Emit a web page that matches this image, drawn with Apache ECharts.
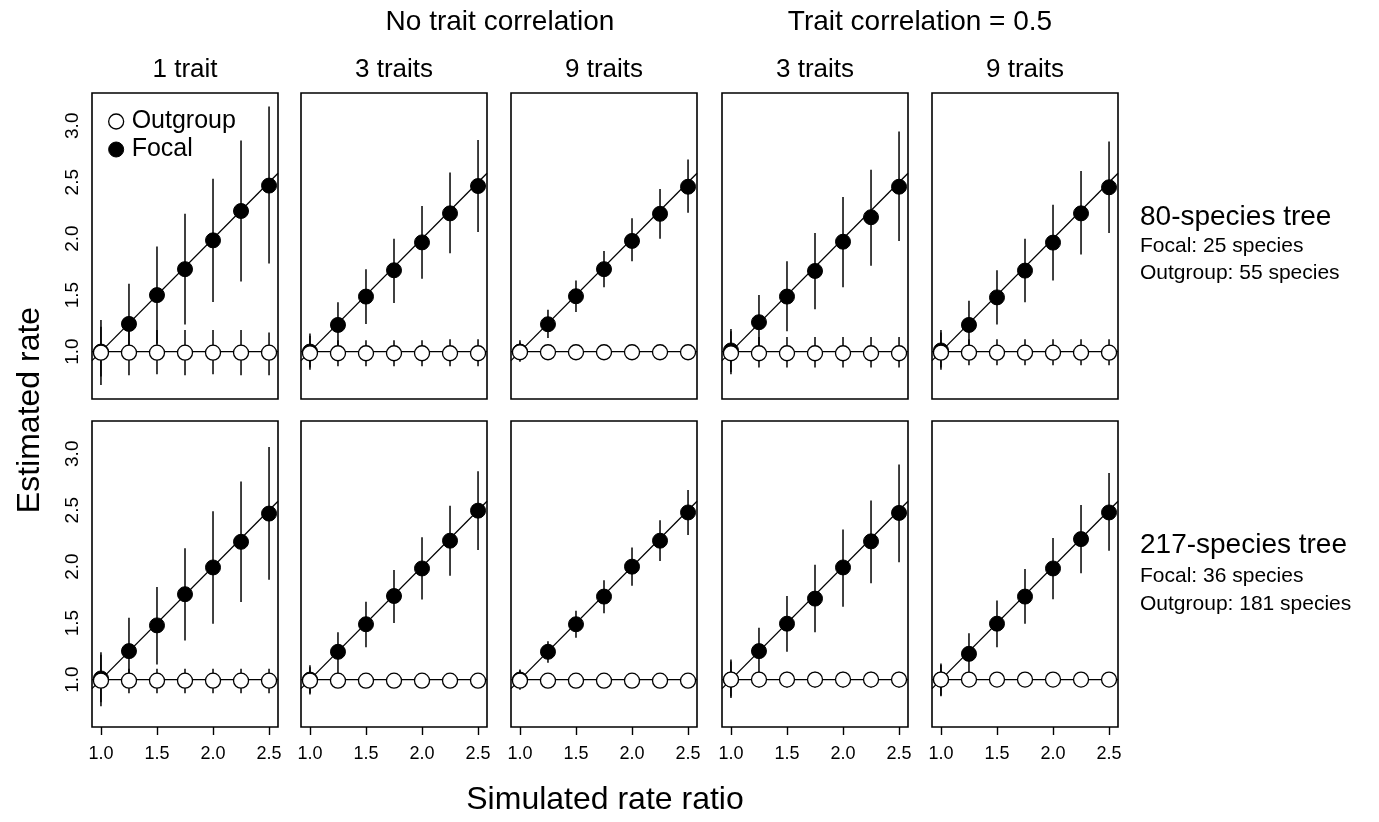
<!DOCTYPE html>
<html>
<head>
<meta charset="utf-8">
<script src="https://cdn.jsdelivr.net/npm/echarts@6/dist/echarts.min.js"></script>
<style>
  html, body { margin: 0; padding: 0; background: #fff; }
  #chart { width: 1379px; height: 822px; }
</style>
</head>
<body>
<div id="chart"></div>
<script>
// simulated rate ratios (x positions)
var ratios = [1.0, 1.25, 1.5, 1.75, 2.0, 2.25, 2.5];
var xTicks = [1.0, 1.5, 2.0, 2.5];
var yTicks = [1.0, 1.5, 2.0, 2.5, 3.0];

var columnTitles = ['1 trait', '3 traits', '9 traits', '3 traits', '9 traits'];
var groupTitles = ['No trait correlation', 'Trait correlation = 0.5'];
var rowTitles = ['80-species tree', '217-species tree'];
var rowFocal = ['Focal: 25 species', 'Focal: 36 species'];
var rowOutgroup = ['Outgroup: 55 species', 'Outgroup: 181 species'];

// 80-species tree, one row per panel
var focalMean80 = [
  [1.00, 1.245, 1.50, 1.73, 1.985, 2.245, 2.47],
  [1.00, 1.236, 1.487, 1.72, 1.967, 2.224, 2.466],
  [1.00, 1.242, 1.49, 1.73, 1.98, 2.22, 2.46],
  [1.01, 1.26, 1.487, 1.714, 1.973, 2.19, 2.46],
  [1.01, 1.236, 1.48, 1.717, 1.965, 2.224, 2.455]
];
var focalLow80 = [
  [0.78, 0.93, 1.07, 1.24, 1.44, 1.62, 1.78],
  [0.86, 1.03, 1.245, 1.43, 1.646, 1.87, 2.06],
  [0.93, 1.12, 1.35, 1.57, 1.80, 2.00, 2.23],
  [0.82, 0.97, 1.18, 1.375, 1.57, 1.76, 1.98],
  [0.86, 1.00, 1.24, 1.437, 1.63, 1.86, 2.05]
];
var focalHigh80 = [
  [1.22, 1.60, 1.93, 2.22, 2.53, 2.87, 3.17],
  [1.14, 1.437, 1.73, 2.00, 2.29, 2.587, 2.873],
  [1.08, 1.37, 1.63, 1.89, 2.18, 2.44, 2.70],
  [1.18, 1.50, 1.80, 2.05, 2.37, 2.61, 2.95],
  [1.17, 1.45, 1.72, 2.00, 2.30, 2.60, 2.86]
];
var outMean80 = [
  [0.99, 0.99, 0.99, 0.99, 0.99, 0.99, 0.99],
  [0.985, 0.985, 0.985, 0.985, 0.985, 0.985, 0.985],
  [0.994, 0.994, 0.994, 0.994, 0.994, 0.994, 0.994],
  [0.985, 0.985, 0.985, 0.985, 0.985, 0.985, 0.985],
  [0.99, 0.99, 0.99, 0.99, 0.99, 0.99, 0.99]
];
var outLow80 = [
  [0.705, 0.79, 0.80, 0.79, 0.80, 0.79, 0.79],
  [0.84, 0.87, 0.87, 0.87, 0.87, 0.87, 0.87],
  [0.91, 0.95, 0.95, 0.95, 0.95, 0.95, 0.95],
  [0.80, 0.86, 0.86, 0.86, 0.86, 0.86, 0.86],
  [0.84, 0.88, 0.88, 0.88, 0.88, 0.88, 0.88]
];
var outHigh80 = [
  [1.28, 1.19, 1.19, 1.19, 1.19, 1.19, 1.17],
  [1.16, 1.10, 1.10, 1.10, 1.10, 1.11, 1.11],
  [1.10, 1.04, 1.04, 1.04, 1.04, 1.04, 1.04],
  [1.20, 1.13, 1.13, 1.13, 1.13, 1.13, 1.13],
  [1.19, 1.11, 1.11, 1.11, 1.11, 1.11, 1.11]
];

// 217-species tree
var focalMean217 = [
  [1.01, 1.252, 1.48, 1.756, 1.993, 2.22, 2.47],
  [1.00, 1.246, 1.49, 1.74, 1.984, 2.23, 2.496],
  [1.00, 1.246, 1.49, 1.735, 2.00, 2.23, 2.48],
  [1.00, 1.252, 1.495, 1.717, 1.993, 2.224, 2.476],
  [1.00, 1.228, 1.495, 1.735, 1.984, 2.244, 2.48]
];
var focalLow217 = [
  [0.80, 0.98, 1.133, 1.347, 1.495, 1.687, 1.883],
  [0.88, 1.05, 1.287, 1.50, 1.71, 1.92, 2.147],
  [0.92, 1.15, 1.37, 1.587, 1.83, 2.05, 2.28],
  [0.85, 1.00, 1.246, 1.42, 1.646, 1.853, 2.04],
  [0.86, 1.00, 1.287, 1.495, 1.711, 1.942, 2.14]
];
var focalHigh217 = [
  [1.22, 1.548, 1.82, 2.164, 2.49, 2.754, 3.06],
  [1.11, 1.42, 1.69, 1.97, 2.26, 2.54, 2.846],
  [1.08, 1.34, 1.61, 1.88, 2.17, 2.41, 2.68],
  [1.16, 1.46, 1.74, 2.016, 2.33, 2.585, 2.905],
  [1.13, 1.41, 1.70, 1.98, 2.253, 2.547, 2.83]
];
var outMean217 = [
  [0.99, 0.99, 0.99, 0.99, 0.99, 0.99, 0.99],
  [0.99, 0.99, 0.99, 0.99, 0.99, 0.99, 0.99],
  [0.99, 0.99, 0.99, 0.99, 0.99, 0.99, 0.99],
  [1.00, 1.00, 1.00, 1.00, 1.00, 1.00, 1.00],
  [1.00, 1.00, 1.00, 1.00, 1.00, 1.00, 1.00]
];
var outLow217 = [
  [0.763, 0.88, 0.88, 0.88, 0.88, 0.88, 0.88],
  [0.867, 0.95, 0.95, 0.95, 0.95, 0.95, 0.95],
  [0.91, 0.96, 0.96, 0.96, 0.96, 0.96, 0.96],
  [0.837, 0.93, 0.93, 0.93, 0.93, 0.93, 0.93],
  [0.852, 0.95, 0.95, 0.95, 0.95, 0.95, 0.95]
];
var outHigh217 = [
  [1.243, 1.095, 1.095, 1.095, 1.095, 1.095, 1.095],
  [1.127, 1.04, 1.04, 1.04, 1.04, 1.04, 1.04],
  [1.09, 1.03, 1.03, 1.03, 1.03, 1.03, 1.03],
  [1.178, 1.07, 1.07, 1.07, 1.07, 1.07, 1.07],
  [1.142, 1.05, 1.05, 1.05, 1.05, 1.05, 1.05]
];

var xMin = 0.92, xMax = 2.58;
var yMin = 0.58, yMax = 3.29;

var FONT = '"Liberation Sans", Arial, Helvetica, sans-serif';
var panelLefts = [92, 301, 511, 722, 932];
var panelW = 186;
var rowTops = [93, 421];
var panelH = 306;

var rows = [
  { mean: focalMean80, lo: focalLow80, hi: focalHigh80, om: outMean80, ol: outLow80, oh: outHigh80 },
  { mean: focalMean217, lo: focalLow217, hi: focalHigh217, om: outMean217, ol: outLow217, oh: outHigh217 }
];

function zip(a, b) {
  return a.map(function (v, i) { return [v, b[i]]; });
}
function zip3(a, b, c) {
  return a.map(function (v, i) { return [v, b[i], c[i]]; });
}

function errorBars(params, api) {
  var x = api.value(0);
  var p1 = api.coord([x, api.value(1)]);
  var p2 = api.coord([x, api.value(2)]);
  return {
    type: 'line',
    shape: { x1: p1[0], y1: p1[1], x2: p2[0], y2: p2[1] },
    style: { stroke: '#000', lineWidth: 1.5 }
  };
}

var grids = [], xAxes = [], yAxes = [], series = [];

rows.forEach(function (row, r) {
  for (var c = 0; c < 5; c++) {
    var idx = grids.length;
    grids.push({
      left: panelLefts[c], top: rowTops[r], width: panelW, height: panelH,
      show: true, borderColor: '#000', borderWidth: 1.6, backgroundColor: 'transparent'
    });
    xAxes.push({
      gridIndex: idx, type: 'value', min: xMin, max: xMax,
      splitLine: { show: false },
      axisLine: { show: false },
      axisTick: { show: r === 1, customValues: xTicks, length: 8, lineStyle: { color: '#000', width: 1.4 } },
      axisLabel: {
        show: r === 1, customValues: xTicks, margin: 18,
        color: '#000', fontSize: 18, fontFamily: FONT,
        formatter: function (v) { return v.toFixed(1); }
      }
    });
    yAxes.push({
      gridIndex: idx, type: 'value', min: yMin, max: yMax,
      splitLine: { show: false },
      axisLine: { show: false },
      axisTick: { show: false },
      axisLabel: {
        show: c === 0, customValues: yTicks, rotate: 90, margin: 10,
        color: '#000', fontSize: 19, fontFamily: FONT,
        formatter: function (v) { return v.toFixed(1); }
      }
    });

    // reference lines: y = x and y = 1
    series.push({
      type: 'line', xAxisIndex: idx, yAxisIndex: idx, silent: true, z: 2,
      symbol: 'none', lineStyle: { color: '#000', width: 1.3 },
      data: [[xMin, xMin], [xMax, xMax]]
    });
    series.push({
      type: 'line', xAxisIndex: idx, yAxisIndex: idx, silent: true, z: 2,
      symbol: 'none', lineStyle: { color: '#000', width: 1.3 },
      data: [[xMin, 1], [xMax, 1]]
    });

    // error bars
    series.push({
      type: 'custom', xAxisIndex: idx, yAxisIndex: idx, z: 3, silent: true,
      renderItem: errorBars, encode: { x: 0, y: [1, 2] },
      data: zip3(ratios, row.lo[c], row.hi[c])
    });
    series.push({
      type: 'custom', xAxisIndex: idx, yAxisIndex: idx, z: 3, silent: true,
      renderItem: errorBars, encode: { x: 0, y: [1, 2] },
      data: zip3(ratios, row.ol[c], row.oh[c])
    });

    // points
    series.push({
      name: 'Focal', type: 'scatter', xAxisIndex: idx, yAxisIndex: idx, z: 4,
      symbol: 'circle', symbolSize: 15,
      itemStyle: { color: '#000', borderColor: '#000', borderWidth: 1, opacity: 1 },
      data: zip(ratios, row.mean[c])
    });
    series.push({
      name: 'Outgroup', type: 'scatter', xAxisIndex: idx, yAxisIndex: idx, z: 5,
      symbol: 'circle', symbolSize: 15,
      itemStyle: { color: '#fff', borderColor: '#000', borderWidth: 1.3, opacity: 1 },
      data: zip(ratios, row.om[c])
    });
  }
});

var graphics = [];
function addText(txt, x, y, size, opts) {
  opts = opts || {};
  graphics.push({
    type: 'text', x: x, y: y, rotation: opts.rotation || 0, silent: true,
    style: {
      text: txt, fill: '#000', fontSize: size, fontFamily: FONT,
      textAlign: opts.align || 'center', textVerticalAlign: 'middle'
    }
  });
}

addText(groupTitles[0], 500, 22, 28);
addText(groupTitles[1], 920, 22, 28);
columnTitles.forEach(function (t, c) {
  addText(t, panelLefts[c] + panelW / 2, 70, 26);
});
addText('Estimated rate', 30, 410, 32, { rotation: Math.PI / 2 });
addText('Simulated rate ratio', 605, 800, 32);

var rowTextY = [[217, 246, 273], [545, 576, 604]];
for (var r = 0; r < 2; r++) {
  addText(rowTitles[r], 1140, rowTextY[r][0], 28, { align: 'left' });
  addText(rowFocal[r], 1140, rowTextY[r][1], 21, { align: 'left' });
  addText(rowOutgroup[r], 1140, rowTextY[r][2], 21, { align: 'left' });
}

var myChart = echarts.init(document.getElementById('chart'), null, { renderer: 'canvas' });
myChart.setOption({
  animation: false,
  backgroundColor: '#fff',
  grid: grids,
  xAxis: xAxes,
  yAxis: yAxes,
  legend: {
    orient: 'vertical', left: 103, top: 104, itemGap: 3,
    itemWidth: 15, itemHeight: 15, selectedMode: false,
    textStyle: { color: '#000', fontSize: 25, fontFamily: FONT, padding: [0, 0, 0, 3] },
    data: [
      { name: 'Outgroup', icon: 'circle', itemStyle: { color: '#fff', borderColor: '#000', borderWidth: 1.3 } },
      { name: 'Focal', icon: 'circle', itemStyle: { color: '#000', borderColor: '#000', borderWidth: 1 } }
    ]
  },
  graphic: graphics,
  series: series
});
window.addEventListener('resize', myChart.resize);
</script>
</body>
</html>
